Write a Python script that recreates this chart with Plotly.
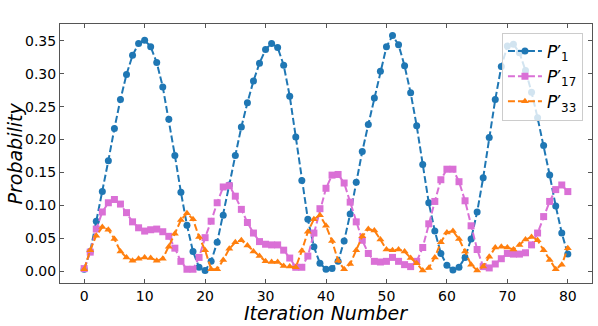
import plotly.graph_objects as go

iterations = list(range(81))

p1 = [0.003, 0.030, 0.076, 0.121, 0.168, 0.217, 0.261, 0.299, 0.328, 0.346,
      0.351, 0.341, 0.317, 0.280, 0.231, 0.176, 0.120, 0.070, 0.030, 0.006,
      0.001, 0.015, 0.044, 0.085, 0.131, 0.176, 0.219, 0.256, 0.289, 0.316,
      0.337, 0.346, 0.340, 0.313, 0.266, 0.204, 0.138, 0.079, 0.037, 0.012,
      0.003, 0.004, 0.015, 0.046, 0.087, 0.135, 0.182, 0.223, 0.263, 0.304,
      0.341, 0.358, 0.344, 0.312, 0.271, 0.221, 0.162, 0.104, 0.061, 0.027,
      0.009, 0.002, 0.006, 0.021, 0.049, 0.090, 0.142, 0.203, 0.261, 0.311,
      0.342, 0.345, 0.332, 0.305, 0.272, 0.233, 0.191, 0.146, 0.099, 0.058,
      0.026]

p17 = [0.004, 0.029, 0.064, 0.090, 0.104, 0.109, 0.102, 0.089, 0.075, 0.066,
       0.061, 0.063, 0.064, 0.060, 0.053, 0.035, 0.015, 0.003, 0.003, 0.021,
       0.051, 0.076, 0.104, 0.128, 0.130, 0.114, 0.094, 0.074, 0.058, 0.045,
       0.041, 0.040, 0.040, 0.032, 0.020, 0.006, 0.006, 0.023, 0.058, 0.095,
       0.126, 0.146, 0.147, 0.134, 0.105, 0.075, 0.047, 0.027, 0.015, 0.014,
       0.015, 0.021, 0.015, 0.010, 0.007, 0.015, 0.036, 0.072, 0.106, 0.139,
       0.155, 0.155, 0.136, 0.107, 0.069, 0.033, 0.007, 0.005, 0.011, 0.019,
       0.027, 0.026, 0.026, 0.028, 0.040, 0.058, 0.083, 0.106, 0.124, 0.131,
       0.121]

p33 = [0.003, 0.032, 0.054, 0.067, 0.063, 0.049, 0.030, 0.021, 0.016, 0.019,
       0.021, 0.020, 0.016, 0.019, 0.037, 0.057, 0.078, 0.088, 0.079, 0.052,
       0.032, 0.003, 0.003, 0.017, 0.034, 0.044, 0.047, 0.039, 0.030, 0.023,
       0.015, 0.014, 0.014, 0.008, 0.007, 0.006, 0.031, 0.060, 0.079, 0.085,
       0.069, 0.046, 0.016, 0.003, 0.011, 0.032, 0.053, 0.064, 0.062, 0.048,
       0.033, 0.032, 0.033, 0.030, 0.020, 0.012, 0.001, 0.005, 0.021, 0.044,
       0.059, 0.061, 0.049, 0.030, 0.010, 0.001, 0.007, 0.022, 0.036, 0.037,
       0.036, 0.033, 0.040, 0.048, 0.052, 0.047, 0.032, 0.017, 0.003, 0.010,
       0.035]

series = [
    ("<i>P</i>′<sub>1</sub>", p1, "#1f77b4", "circle"),
    ("<i>P</i>′<sub>17</sub>", p17, "orchid", "square"),
    ("<i>P</i>′<sub>33</sub>", p33, "#ff7f0e", "triangle-up"),
]

fig = go.Figure()
for name, vals, color, symbol in series:
    fig.add_trace(go.Scatter(
        x=iterations, y=vals, name=name, mode="lines+markers",
        line=dict(color=color, width=2, dash="7px,3px"),
        marker=dict(color=color, symbol=symbol, size=7),
    ))

axis_style = dict(
    showgrid=False, zeroline=False, showline=True, mirror="ticks",
    linecolor="#555555", linewidth=1, ticks="inside", ticklen=4,
    tickcolor="#555555", tickfont=dict(size=14, color="black"),
    automargin=False,
)

fig.update_layout(
    width=598, height=326,
    margin=dict(l=60, r=6, t=24, b=43),
    paper_bgcolor="white", plot_bgcolor="white",
    font=dict(family="DejaVu Sans", color="black"),
    showlegend=True,
    legend=dict(
        x=0.983, y=0.967, xanchor="right", yanchor="top",
        bgcolor="rgba(255,255,255,0.8)", bordercolor="#cccccc", borderwidth=1,
        font=dict(size=17), tracegroupgap=0, itemwidth=34,
    ),
    xaxis=dict(
        range=[-4, 84], tickvals=[0, 10, 20, 30, 40, 50, 60, 70, 80],
        **axis_style,
    ),
    yaxis=dict(
        range=[-0.0179, 0.3756],
        tickvals=[0, 0.05, 0.10, 0.15, 0.20, 0.25, 0.30, 0.35],
        tickformat=".2f",
        **axis_style,
    ),
    annotations=[
        dict(text="<i>Iteration Number</i>", xref="paper", yref="paper",
             x=0.5, y=0, yshift=-30, xanchor="center", yanchor="middle",
             showarrow=False, font=dict(size=19)),
        dict(text="<i>Probability</i>", xref="paper", yref="paper",
             x=0, y=0.5, xshift=-46, xanchor="center", yanchor="middle",
             textangle=-90, showarrow=False, font=dict(size=19)),
    ],
)

# drop the page's default 8px body margin so the figure sits at the corner
fig.write_html("out.html", config={"displayModeBar": False},
               post_script="document.body.style.margin='0';")
